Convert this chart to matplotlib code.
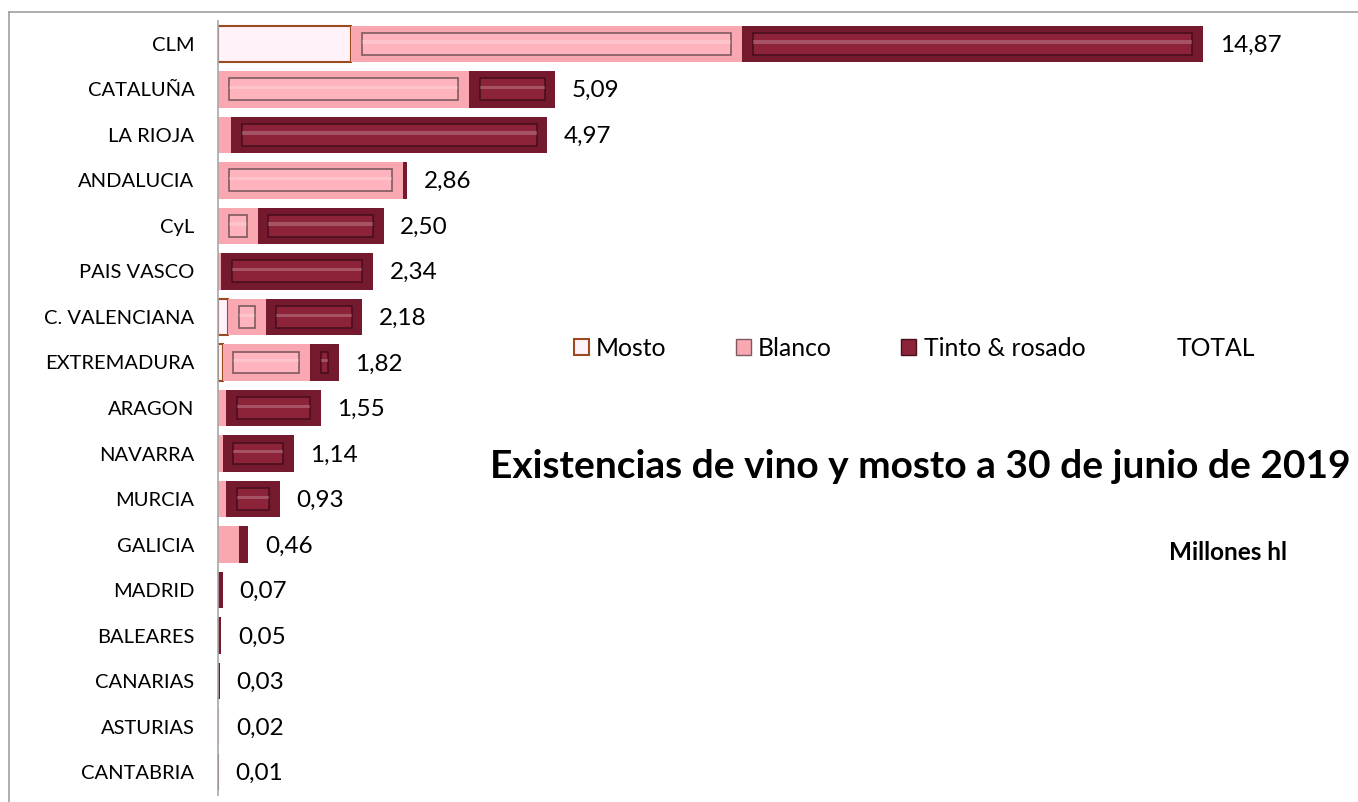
import matplotlib
matplotlib.use('Agg')
import matplotlib.pyplot as plt
from matplotlib.patches import Patch
from matplotlib.lines import Line2D
import numpy as np

plt.rcParams['font.family'] = ['Lato', 'DejaVu Sans']

# datos (millones hl), de arriba a abajo
regiones = ['CLM', 'CATALUÑA', 'LA RIOJA', 'ANDALUCIA', 'CyL', 'PAIS VASCO',
            'C. VALENCIANA', 'EXTREMADURA', 'ARAGON', 'NAVARRA', 'MURCIA',
            'GALICIA', 'MADRID', 'BALEARES', 'CANARIAS', 'ASTURIAS', 'CANTABRIA']
mosto = [2.01, 0.00, 0.00, 0.00, 0.00, 0.00, 0.15, 0.07, 0.00, 0.00, 0.00,
         0.00, 0.00, 0.00, 0.00, 0.00, 0.00]
blanco = [5.90, 3.79, 0.20, 2.79, 0.60, 0.05, 0.57, 1.32, 0.12, 0.07, 0.12,
          0.32, 0.00, 0.00, 0.00, 0.01, 0.005]
tinto = [6.96, 1.30, 4.77, 0.07, 1.90, 2.29, 1.46, 0.43, 1.43, 1.07, 0.81,
         0.14, 0.07, 0.05, 0.03, 0.01, 0.005]
total = ['14,87', '5,09', '4,97', '2,86', '2,50', '2,34', '2,18', '1,82', '1,55',
         '1,14', '0,93', '0,46', '0,07', '0,05', '0,03', '0,02', '0,01']

series = ['Mosto', 'Blanco', 'Tinto & rosado']

fig = plt.figure(figsize=(13.58, 8.02), dpi=100)
ax = fig.add_axes([218 / 1358, 1 - 795 / 802, 1130 / 1358, 774 / 802])

y = np.arange(len(regiones))
h = 0.8
m = np.array(mosto)
b = np.array(blanco)
t = np.array(tinto)

# estilo bisel: color exterior, cara interior, borde de la cara
estilos = {
    'Blanco': ('#F9A8B1', '#FFB4BD', '#7E5A60'),
    'Tinto & rosado': ('#74192E', '#8C2339', '#4A0F1C'),
}

# mosto: caja clara con borde marrón
ax.barh(y, m, height=h, left=0, color='#FFF2FA', edgecolor='#9A4A1E', linewidth=1.5)

dx = 0.16  # inset horizontal
dy = 0.16  # inset vertical
for vals, left, nombre in [(b, m, 'Blanco'), (t, m + b, 'Tinto & rosado')]:
    ext, cara, borde = estilos[nombre]
    ax.barh(y, vals, height=h, left=left, color=ext, edgecolor='none')
    w_in = np.maximum(vals - 2 * dx, 0)
    ok = w_in > 0.02
    ax.barh(y[ok], w_in[ok], height=h - 2 * dy, left=left[ok] + dx,
            color=cara, edgecolor=borde, linewidth=1.2)
    # brillo
    ax.barh(y[ok] - 0.04, w_in[ok], height=0.07, left=left[ok] + dx,
            color='white', alpha=0.22, edgecolor='none')

tot = m + b + t
for yi, xi, lab in zip(y, tot, total):
    ax.annotate(lab, (xi, yi), xytext=(12, -1), textcoords='offset points',
                va='center', ha='left', fontsize=17.5)

ax.set_ylim(16.5, -0.5)
ax.set_xlim(0, 1130 / 66.24)
ax.set_yticks(y)
ax.set_yticklabels(regiones, fontsize=14.5)
ax.tick_params(axis='y', length=0, pad=17)
ax.set_xticks([])
for s in ['top', 'right', 'bottom']:
    ax.spines[s].set_visible(False)
ax.spines['left'].set_color('#A8A8A8')
ax.spines['left'].set_linewidth(1.2)

handles = [Patch(facecolor='#FFF2FA', edgecolor='#9A4A1E', linewidth=1.5),
           Patch(facecolor='#F9A8B1', edgecolor='#7E5A60', linewidth=1),
           Patch(facecolor='#8C2339', edgecolor='#4A0F1C', linewidth=1),
           Patch(facecolor='none', edgecolor='none')]
fig.legend(handles, series + ['TOTAL'], loc='center left',
           bbox_to_anchor=(574 / 1358, 1 - 348 / 802), ncol=4, frameon=False,
           fontsize=17.8, handlelength=0.6, handleheight=0.6, handletextpad=0.3,
           columnspacing=2.8, borderaxespad=0, borderpad=0)

fig.text(920 / 1358, 1 - 467 / 802, 'Existencias de vino y mosto a 30 de junio de 2019',
         ha='center', va='center', fontsize=28, fontweight='bold')
fig.text(1228 / 1358, 1 - 553 / 802, 'Millones hl', ha='center', va='center',
         fontsize=17.5, fontweight='bold')

# marco gris del gráfico
fig.add_artist(Line2D([9 / 1358, 1], [1 - 12 / 802, 1 - 12 / 802],
                      transform=fig.transFigure, color='#A0A0A0', lw=1.2))
fig.add_artist(Line2D([9 / 1358, 9 / 1358], [0, 1 - 12 / 802],
                      transform=fig.transFigure, color='#A0A0A0', lw=1.2))

fig.savefig('out.png', dpi=100)
